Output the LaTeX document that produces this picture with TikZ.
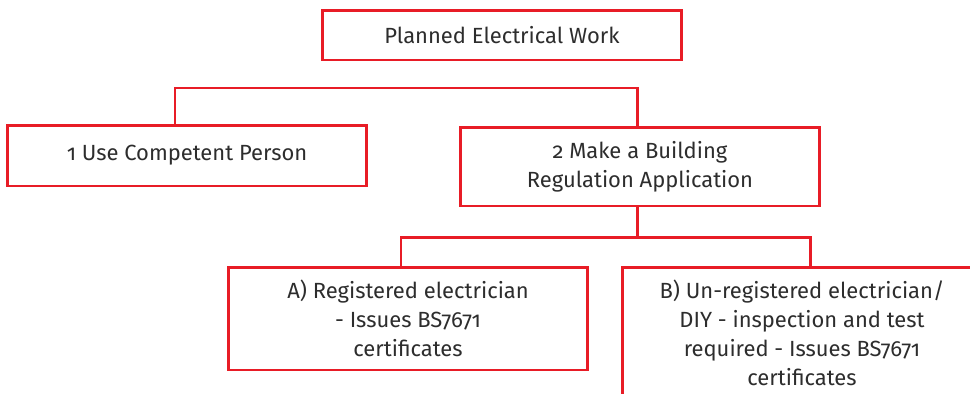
\documentclass[tikz,border=0pt]{standalone}
\usepackage{fontspec}
\setmainfont[Numbers=OldStyle]{Fira Sans}
\usepackage{tikz}
\usetikzlibrary{calc}
\definecolor{boxred}{RGB}{232,28,38}
\definecolor{boxtext}{RGB}{45,45,45}
\tikzset{
	flowbox/.style={draw=boxred, line width=1.7pt, fill=white, text=boxtext,
		minimum width=7.2cm, inner sep=0pt, align=center,
		font=\fontsize{12.5}{16.6}\selectfont},
	link/.style={draw=boxred, line width=1.7pt}
}

\begin{document}
\begin{tikzpicture}[x=0.02cm, y=-0.02cm]
			%%%%% START %%%%%
			
			\useasboundingbox (0, 0) rectangle (970, 393);
			\clip (0, 0) rectangle (970, 393);
			
			\node[flowbox, minimum height=1cm] (work) at (502, 35) {Planned Electrical Work};
			
			\node[flowbox, minimum height=1.22cm] (competent) at (187, 155.5) {1 Use Competent Person};
			\node[flowbox, minimum height=1.58cm] (regapp) at (640, 166.5) {2 Make a Building\\Regulation Application};
			
			\node[flowbox, minimum height=2.06cm] (registered) at (408, 318.5) {A) Registered electrician\\- Issues BS7671\\certificates};
			\node[flowbox, minimum height=2.64cm] (diy) at (802, 333) {B) Un-registered electrician/\\DIY - inspection and test\\required - Issues BS7671\\certificates};
			
			% first branch
			\coordinate (busL) at (175, 88);
			\coordinate (busR) at (637, 88);
			\draw[link] ($(work.south)+(-2,0)$) -- ($(work.south)+(-2,0)$ |- busL);
			\draw[link] (busL |- competent.north) |- (busR) -- (busR |- regapp.north);
			
			% second branch
			\coordinate (subL) at (401, 237);
			\coordinate (subR) at (810, 237);
			\draw[link] (subR -| busR) -- (busR |- regapp.south);
			\draw[link] (subL |- registered.north) |- (subR) -- (subR |- diy.north);
			
			%%%%% END %%%%%
\end{tikzpicture}
\end{document}
